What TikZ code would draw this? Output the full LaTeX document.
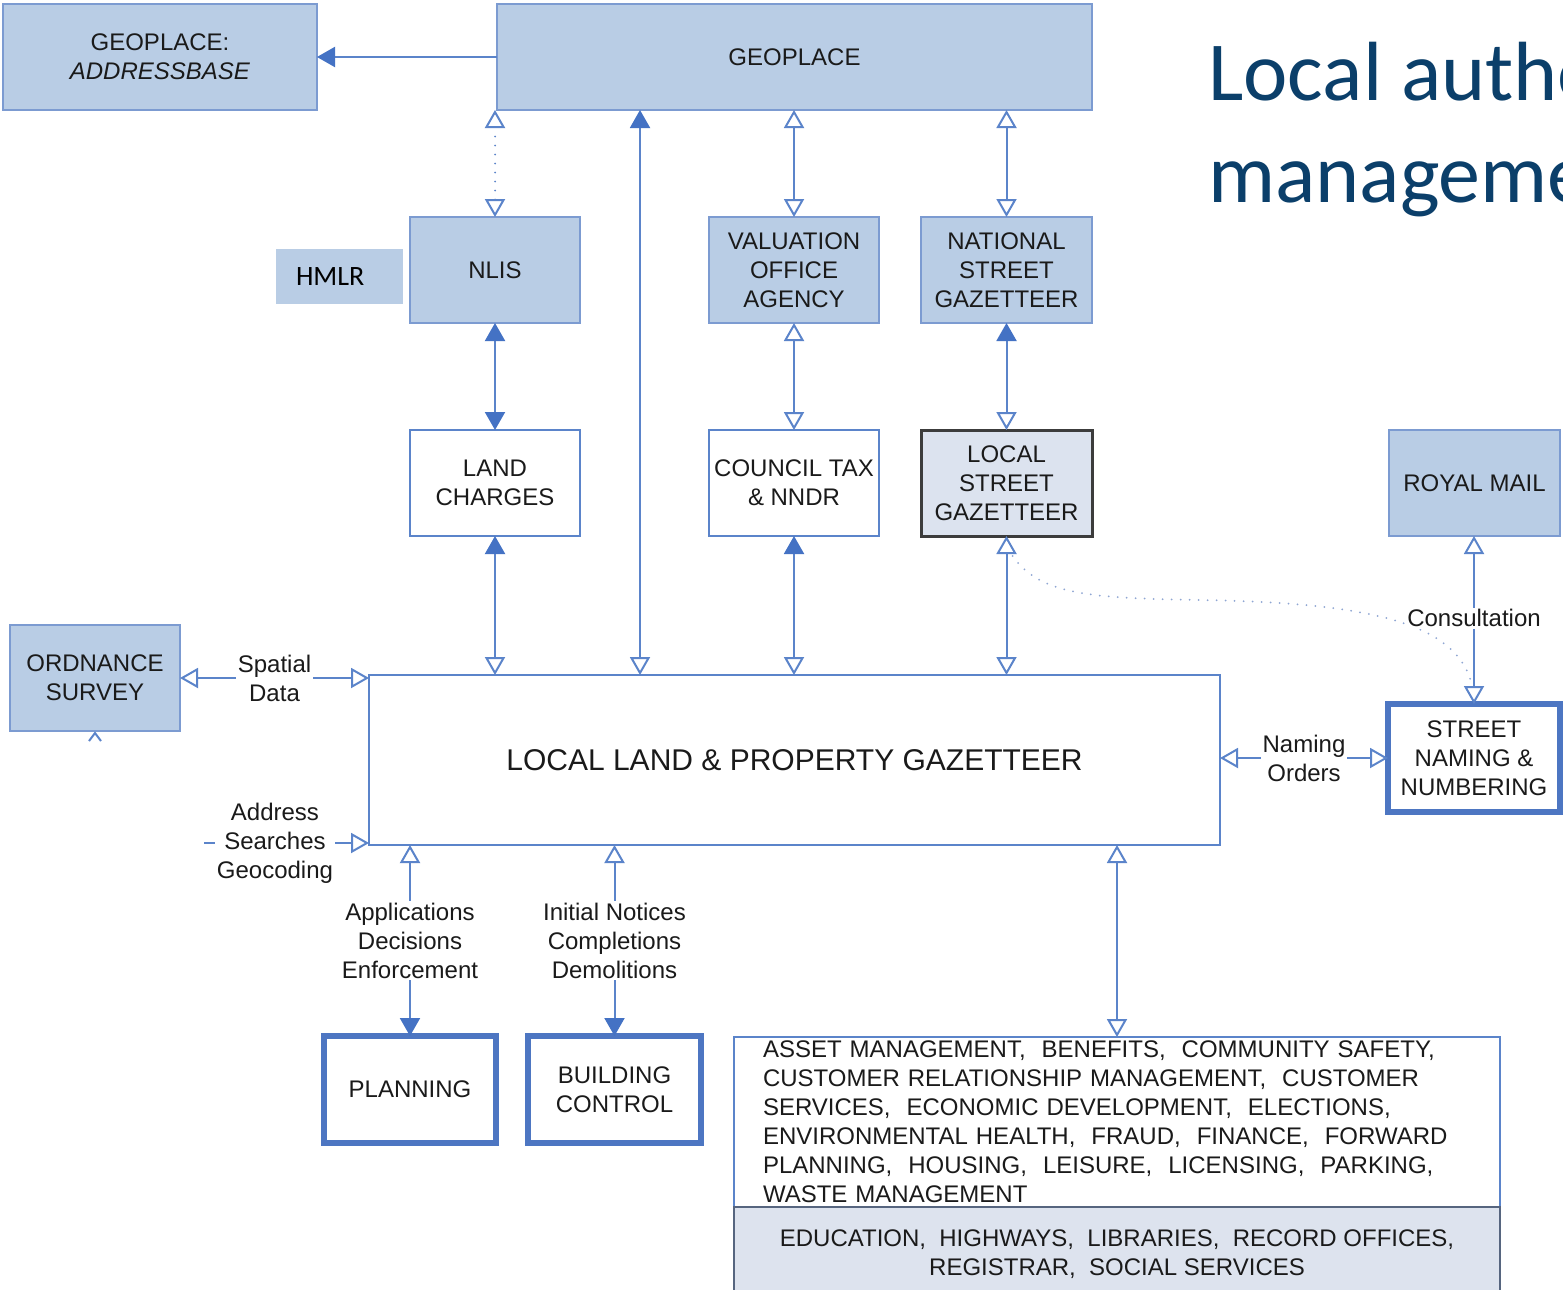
\documentclass[tikz,border=0pt]{standalone}
\usepackage{fontspec}
\setmainfont{Liberation Sans}
\newfontfamily\titlefont{Carlito}
\usetikzlibrary{arrows.meta,calc}

\definecolor{boxfill}{HTML}{B9CDE5}
\definecolor{boxline}{HTML}{7C9BD1}
\definecolor{linkblue}{HTML}{5B84CA}
\definecolor{tipblue}{HTML}{4472C4}
\definecolor{thickblue}{HTML}{4D76C2}
\definecolor{lsgfill}{HTML}{DCE3EF}
\definecolor{lsgline}{HTML}{3C3C3C}
\definecolor{lowerfill}{HTML}{DDE3EE}
\definecolor{lowerline}{HTML}{56657F}
\definecolor{titleblue}{HTML}{0B3F6A}
\definecolor{dotblue}{HTML}{8FA6D3}
\definecolor{ink}{HTML}{1A1A1A}

\tikzset{
  base/.style={outer sep=0pt, align=center, text=ink,
    font=\fontsize{12}{14.5}\selectfont, inner sep=2pt},
  bluebox/.style={base, fill=boxfill, draw=boxline, line width=1pt},
  whitebox/.style={base, fill=white, draw=linkblue, line width=1pt},
  heavybox/.style={base, fill=white, draw=thickblue, line width=3pt},
  link/.style={draw=linkblue, line width=1pt},
  dots/.style={line cap=round, dash pattern=on 0pt off 4.5pt},
  oh/.tip={Triangle[length=9pt,width=10pt,fill=white]},
  fh/.tip={Triangle[length=9pt,width=10pt,color=tipblue]},
  lbl/.style={base, fill=white, inner sep=1pt},
  titletext/.style={anchor=base west, inner sep=0pt, text=titleblue,
    font=\titlefont\fontsize{42}{50}\selectfont},
}

\begin{document}
\begin{tikzpicture}[x=0.5pt,y=-0.5pt]
\useasboundingbox (0,0) rectangle (1563,1290);
\clip (0,0) rectangle (1563,1290);
\fill[white] (0,0) rectangle (1563,1290);

% title, running off the right edge of the page
\node[titletext] (t1) at (1208,100) {Local authority};
\node[titletext] (t2) at (1208,202) {management};

% national bodies
\node[bluebox, minimum width=157pt, minimum height=53pt] (addr) at (160,57)
  {GEOPLACE:\\\textit{ADDRESSBASE}};
\node[bluebox, minimum width=297.5pt, minimum height=53pt] (geo) at (794.5,57) {GEOPLACE};
\node[bluebox, minimum width=85pt, minimum height=53pt] (nlis) at (495,270) {NLIS};
\node[outer sep=0pt, fill=boxfill, minimum width=63.5pt, minimum height=27.5pt,
  inner xsep=10pt, text width=43.5pt, align=left,
  font=\titlefont\fontsize{14}{16}\selectfont] (hmlr) at (339.5,276.5) {HMLR};
\node[bluebox, minimum width=85pt, minimum height=53pt] (voa) at (794,270)
  {VALUATION\\OFFICE\\AGENCY};
\node[bluebox, minimum width=85.5pt, minimum height=53pt] (nsg) at (1006.5,270)
  {NATIONAL\\STREET\\GAZETTEER};

% second row
\node[whitebox, minimum width=85pt, minimum height=53pt] (lc) at (495,483) {LAND\\CHARGES};
\node[whitebox, minimum width=85pt, minimum height=53pt, inner xsep=1pt] (ct) at (794,483)
  {COUNCIL TAX\\\& NNDR};
\node[base, fill=lsgfill, draw=lsgline, line width=1.5pt,
  minimum width=85.5pt, minimum height=53pt] (lsg) at (1006.5,483)
  {LOCAL\\STREET\\GAZETTEER};
\node[bluebox, minimum width=85.5pt, minimum height=53pt] (rm) at (1474.5,483) {ROYAL MAIL};

% gazetteer row
\node[bluebox, minimum width=85pt, minimum height=53pt] (os) at (95,678)
  {ORDNANCE\\SURVEY};
\node[whitebox, minimum width=425.5pt, minimum height=85pt,
  font=\fontsize{15}{18}\selectfont] (llpg) at (794.5,760)
  {LOCAL LAND \& PROPERTY GAZETTEER};
\node[heavybox, minimum width=86pt, minimum height=54pt] (snn) at (1474,758)
  {STREET\\NAMING \&\\NUMBERING};

% services
\node[heavybox, minimum width=86pt, minimum height=53.5pt] (plan) at (410,1089.5) {PLANNING};
\node[heavybox, minimum width=86.5pt, minimum height=53.5pt] (bc) at (614.5,1089.5)
  {BUILDING\\CONTROL};
\node[whitebox, align=left, inner xsep=14.5pt, text width=354pt,
  minimum height=85pt] (svc) at (1117,1122)
  {ASSET MANAGEMENT,\ \ BENEFITS,\ \ COMMUNITY SAFETY,\\
   CUSTOMER RELATIONSHIP MANAGEMENT,\ \ CUSTOMER\\
   SERVICES,\ \ ECONOMIC DEVELOPMENT,\ \ ELECTIONS,\\
   ENVIRONMENTAL HEALTH,\ \ FRAUD,\ \ FINANCE,\ \ FORWARD\\
   PLANNING,\ \ HOUSING,\ \ LEISURE,\ \ LICENSING,\ \ PARKING,\\
   WASTE MANAGEMENT};
\node[base, fill=lowerfill, draw=lowerline, line width=1pt,
  minimum width=383pt, minimum height=47.5pt] (lower) at (1117,1254.5)
  {EDUCATION,\ \ HIGHWAYS,\ \ LIBRARIES,\ \ RECORD OFFICES,\\
   REGISTRAR,\ \ SOCIAL SERVICES};

% helper coordinates
\coordinate (c640) at (640,400);
\coordinate (addrstub) at (204,843);

% links from GeoPlace
\draw[link,-fh] (geo.west) -- (addr.east);
\draw[link,dots,oh-oh] (nlis.north) -- (nlis.north |- geo.south);
\draw[link,oh-fh] (c640 |- llpg.north) -- (c640 |- geo.south);
\draw[link,oh-oh] (voa.north) -- (voa.north |- geo.south);
\draw[link,oh-oh] (nsg.north) -- (nsg.north |- geo.south);

% middle links
\draw[link,fh-fh] (nlis.south) -- (lc.north);
\draw[link,oh-oh] (voa.south) -- (ct.north);
\draw[link,fh-oh] (nsg.south) -- (lsg.north);

% links into the LLPG
\draw[link,fh-oh] (lc.south) -- (lc.south |- llpg.north);
\draw[link,fh-oh] (ct.south) -- (ct.south |- llpg.north);
\draw[link,oh-oh] (lsg.south) -- (lsg.south |- llpg.north);

% consultation with Royal Mail
\draw[draw=dotblue, line width=1pt, dots]
  ([shift={(3pt,-10pt)}]lsg.south) .. controls (1040,595) and (1090,598) .. (1200,600)
  .. controls (1380,603) and (1466,625) .. ([yshift=4pt]snn.north);
\draw[link,oh-oh] (snn.north |- rm.south) -- (snn.north)
  node[lbl, pos=0.49] (cons) {Consultation};

% Ordnance Survey
\draw[link,oh-oh] (os.east) -- (os.east -| llpg.west)
  node[lbl, midway] (spat) {Spatial\\Data};
\draw[link] ([shift={(-3pt,-5pt)}]os.south) -- ([yshift=-1pt]os.south)
  -- ([shift={(3pt,-5pt)}]os.south);
\draw[link,-oh] (addrstub) -- (addrstub -| llpg.west)
  node[lbl, pos=0.43] (srch) {Address\\Searches\\Geocoding};

% street naming
\draw[link,oh-oh] (snn.west -| llpg.east) -- (snn.west)
  node[lbl, midway] (nam) {Naming\\Orders};

% departmental links
\draw[link,oh-fh] (plan.north |- llpg.south) -- (plan.north)
  node[lbl, midway] (app) {Applications\\Decisions\\Enforcement};
\draw[link,oh-fh] (bc.north |- llpg.south) -- (bc.north)
  node[lbl, midway] (notice) {Initial Notices\\Completions\\Demolitions};
\draw[link,oh-oh] (svc.north |- llpg.south) -- (svc.north);
\end{tikzpicture}
\end{document}
